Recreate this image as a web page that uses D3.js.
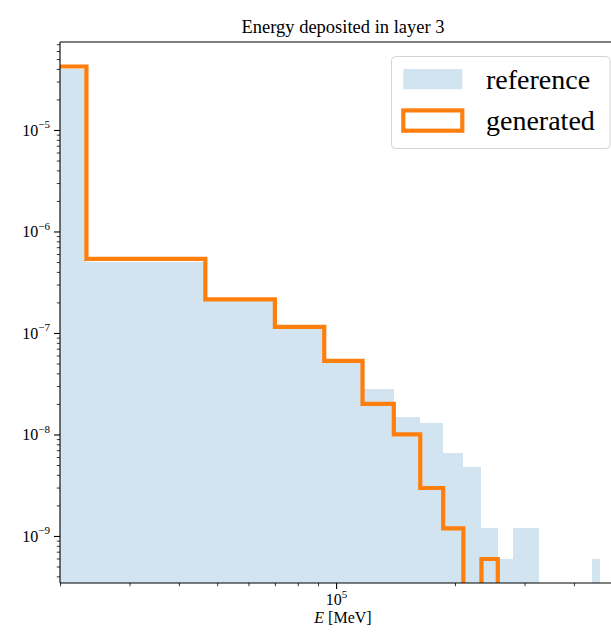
<!DOCTYPE html>
<html>
<head>
<meta charset="utf-8">
<script src="https://cdn.jsdelivr.net/npm/d3@7"></script>
<style>
  html, body { margin: 0; padding: 0; background: #fff; }
  svg { display: block; }
  text { font-family: "Liberation Serif", "Times New Roman", serif; fill: #000; }
</style>
</head>
<body>
<svg id="chart" width="611" height="632"></svg>
<script>
// ---------------- data ----------------
const titleText = "Energy deposited in layer 3";
const binEdges = [0, 23333, 46667, 70000, 93333, 116667, 140000, 163333, 186667, 210000,
  233333, 256667, 280000, 303333, 326667, 350000, 373333, 396667, 420000, 443333,
  466667, 490000, 513333, 536667, 560000];
const referenceValues = [3.99e-5, 4.95e-7, 2.09e-7, 1.095e-7, 5.42e-8, 2.81e-8, 1.487e-8,
  1.306e-8, 6.53e-9, 4.75e-9, 1.19e-9, 5.93e-10, 1.19e-9, 1.19e-9, 0, 0, 0, 0, 0,
  5.93e-10, 0, 0, 0, 0];
const generatedValues = [4.22e-5, 5.36e-7, 2.14e-7, 1.146e-7, 5.30e-8, 2.0e-8, 1.0e-8,
  2.97e-9, 1.19e-9, 0, 5.93e-10, 0, 0, 0, 0, 0, 0, 0, 0, 0, 0, 0, 0, 0];
const seriesNames = ["reference", "generated"];
const yMajorTicks = [1e-9, 1e-8, 1e-7, 1e-6, 1e-5];
const yMajorExponents = ["−9", "−8", "−7", "−6", "−5"];
const xMajorTicks = [1e5];
const xMajorExponents = ["5"];
const xMinorTicks = [2e4, 3e4, 4e4, 5e4, 6e4, 7e4, 8e4, 9e4, 2e5, 3e5, 4e5, 5e5];

// ---------------- layout ----------------
const plot = { left: 60, top: 42, right: 625, bottom: 583 };
const refColor = "#1f77b4";
const genColor = "#ff7f0e";

const svg = d3.select("#chart");

const x = d3.scaleLog().domain([2.0e4, 5.388e5]).range([plot.left, plot.right]);
const y = d3.scaleLog().domain([3.44e-10, 7.36e-5]).range([plot.bottom, plot.top]);

const xPos = v => v > 0 ? x(v) : plot.left - 60;
const yPos = v => v > 0 ? y(v) : plot.bottom + 30;

svg.append("defs").append("clipPath").attr("id", "plotclip")
  .append("rect")
  .attr("x", plot.left).attr("y", plot.top)
  .attr("width", plot.right - plot.left).attr("height", plot.bottom - plot.top);

const g = svg.append("g").attr("clip-path", "url(#plotclip)");

// reference histogram (filled)
const bins = referenceValues.map((v, i) => ({ x0: binEdges[i], x1: binEdges[i + 1], v }));
g.selectAll("rect.ref")
  .data(bins.filter(d => d.v > 0))
  .enter().append("rect")
  .attr("class", "ref")
  .attr("x", d => xPos(d.x0))
  .attr("width", d => x(d.x1) - xPos(d.x0))
  .attr("y", d => y(d.v))
  .attr("height", d => plot.bottom - y(d.v))
  .attr("fill", refColor)
  .attr("fill-opacity", 0.2)
  .attr("shape-rendering", "crispEdges");

// generated histogram (step outline)
const stepPts = [];
stepPts.push([xPos(binEdges[0]), plot.bottom + 30]);
generatedValues.forEach((v, i) => {
  stepPts.push([xPos(binEdges[i]), yPos(v)]);
  stepPts.push([xPos(binEdges[i + 1]), yPos(v)]);
});
stepPts.push([xPos(binEdges[binEdges.length - 1]), plot.bottom + 30]);
g.append("path")
  .attr("d", d3.line()(stepPts))
  .attr("fill", "none")
  .attr("stroke", genColor)
  .attr("stroke-width", 4.2)
  .attr("stroke-linejoin", "miter");

// ---------------- axes ----------------
svg.append("line").attr("x1", plot.left).attr("x2", plot.right)
  .attr("y1", plot.top).attr("y2", plot.top).attr("stroke", "#000").attr("stroke-width", 1.1);
svg.append("line").attr("x1", plot.left).attr("x2", plot.left)
  .attr("y1", plot.top).attr("y2", plot.bottom).attr("stroke", "#000").attr("stroke-width", 1.1);
svg.append("line").attr("x1", plot.left).attr("x2", plot.right)
  .attr("y1", plot.bottom).attr("y2", plot.bottom).attr("stroke", "#000").attr("stroke-width", 1.1);

// y minor ticks
const yMinor = [];
for (let e = -10; e <= -5; e++) for (let m = 2; m <= 9; m++) {
  const v = m * Math.pow(10, e);
  if (v >= y.domain()[0] && v <= y.domain()[1]) yMinor.push(v);
}
const yMinorAxis = d3.axisLeft(y).tickValues(yMinor).tickSize(3.2).tickFormat("");
svg.append("g").attr("transform", `translate(${plot.left},0)`).call(yMinorAxis)
  .call(s => s.select(".domain").remove())
  .call(s => s.selectAll("line").attr("stroke", "#000").attr("stroke-width", 0.8));

const yMajorAxis = d3.axisLeft(y).tickValues(yMajorTicks).tickSize(6).tickFormat("");
const yAx = svg.append("g").attr("transform", `translate(${plot.left},0)`).call(yMajorAxis);
yAx.select(".domain").remove();
yAx.selectAll("line").attr("stroke", "#000").attr("stroke-width", 1.1);
yAx.selectAll(".tick").each(function (d, i) {
  const t = d3.select(this).append("text")
    .attr("x", -10).attr("y", 5.5)
    .attr("text-anchor", "end")
    .attr("font-size", 16)
    .attr("fill", "#000");
  t.append("tspan").text("10");
  t.append("tspan").attr("dy", -7.5).attr("font-size", 11).text(yMajorExponents[i]);
});

// x ticks
const xMinorAxis = d3.axisBottom(x).tickValues(xMinorTicks).tickSize(3.2).tickFormat("");
svg.append("g").attr("transform", `translate(0,${plot.bottom})`).call(xMinorAxis)
  .call(s => s.select(".domain").remove())
  .call(s => s.selectAll("line").attr("stroke", "#000").attr("stroke-width", 0.8));

const xMajorAxis = d3.axisBottom(x).tickValues(xMajorTicks).tickSize(6).tickFormat("");
const xAx = svg.append("g").attr("transform", `translate(0,${plot.bottom})`).call(xMajorAxis);
xAx.select(".domain").remove();
xAx.selectAll("line").attr("stroke", "#000").attr("stroke-width", 1.1);
xAx.selectAll(".tick").each(function (d, i) {
  const t = d3.select(this).append("text")
    .attr("x", 0).attr("y", 22)
    .attr("text-anchor", "middle")
    .attr("font-size", 16)
    .attr("fill", "#000");
  t.append("tspan").text("10");
  t.append("tspan").attr("dy", -7.5).attr("font-size", 11).text(xMajorExponents[i]);
});

// axis label
const xl = svg.append("text")
  .attr("x", 343).attr("y", 623)
  .attr("text-anchor", "middle")
  .attr("font-size", 16);
xl.append("tspan").attr("font-style", "italic").text("E");
xl.append("tspan").text(" [MeV]");

// title
svg.append("text")
  .attr("x", 343).attr("y", 33)
  .attr("text-anchor", "middle")
  .attr("font-size", 18.5)
  .text(titleText);

// ---------------- legend ----------------
const lg = svg.append("g");
lg.append("rect")
  .attr("x", 391.5).attr("y", 56.5).attr("width", 218.5).attr("height", 92)
  .attr("rx", 4).attr("ry", 4)
  .attr("fill", "#fff").attr("fill-opacity", 0.8)
  .attr("stroke", "#d4d4d4").attr("stroke-width", 1);
lg.append("rect")
  .attr("x", 403.3).attr("y", 69).attr("width", 59).attr("height", 20.3)
  .attr("fill", refColor).attr("fill-opacity", 0.2);
lg.append("rect")
  .attr("x", 403.3).attr("y", 110.4).attr("width", 59).attr("height", 20.3)
  .attr("fill", "none").attr("stroke", genColor).attr("stroke-width", 4.2);
lg.append("text").attr("x", 486).attr("y", 89).attr("font-size", 28).text(seriesNames[0]);
lg.append("text").attr("x", 486).attr("y", 130).attr("font-size", 28).text(seriesNames[1]);
</script>
</body>
</html>
